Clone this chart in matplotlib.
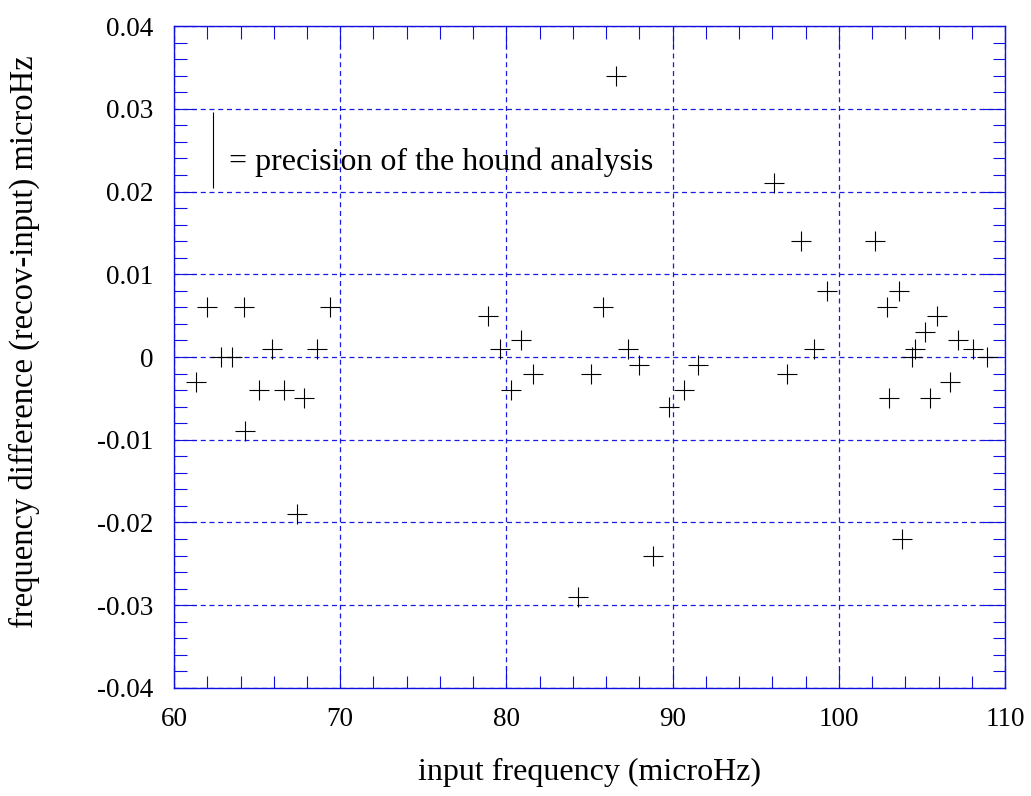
import matplotlib.pyplot as plt
from matplotlib.ticker import MultipleLocator

# input frequency (microHz) and recovered-minus-input difference (microHz)
freq = [61.3, 62.0, 62.8, 63.5, 64.2, 64.3, 65.1, 65.9, 66.6, 67.4, 67.8, 68.6, 69.4,
        78.9, 79.6, 80.3, 80.9, 81.6, 84.3, 85.1, 85.8, 86.6, 87.3, 88.0, 88.8,
        89.8, 90.7, 91.5, 96.1, 96.9, 97.7, 98.5, 99.3, 102.2, 102.9, 103.0,
        103.6, 103.8, 104.4, 104.6, 105.2, 105.5, 105.9, 106.7, 107.2, 108.1, 108.9]
diff = [-0.003, 0.006, 0.0, 0.0, 0.006, -0.009, -0.004, 0.001, -0.004, -0.019, -0.005, 0.001, 0.006,
        0.005, 0.001, -0.004, 0.002, -0.002, -0.029, -0.002, 0.006, 0.034, 0.001, -0.001, -0.024,
        -0.006, -0.004, -0.001, 0.021, -0.002, 0.014, 0.001, 0.008, 0.014, 0.006, -0.005,
        0.008, -0.022, 0.0, 0.001, 0.003, -0.005, 0.005, -0.003, 0.002, 0.001, 0.0]

# error bar used as the key for the precision
prec_x = 62.35
prec_lo, prec_hi = 0.0204, 0.0296

plt.rcParams['font.family'] = ['Liberation Serif', 'DejaVu Serif']

fig = plt.figure(figsize=(10.31, 7.96), dpi=100)
ax = fig.add_axes([0.1688, 0.1357, 0.806, 0.8316])

ax.plot(freq, diff, linestyle='none', marker='+', markersize=14,
        markeredgewidth=0.8, color='black')

ax.vlines(prec_x, prec_lo, prec_hi, color='black', linewidth=0.8)
ax.text(63.3, 0.0226, '= precision of the hound analysis', fontsize=23,
        va='baseline', ha='left')

ax.set_xlim(60, 110)
ax.set_ylim(-0.04, 0.04)
ax.xaxis.set_major_locator(MultipleLocator(10))
ax.xaxis.set_minor_locator(MultipleLocator(2))
ax.yaxis.set_minor_locator(MultipleLocator(0.002))
ax.set_yticks([-0.04, -0.03, -0.02, -0.01, 0, 0.01, 0.02, 0.03, 0.04])
ax.set_yticklabels(['-0.04', '-0.03', '-0.02', '-0.01', '0', '0.01', '0.02', '0.03', '0.04'])

ax.grid(True, which='major', color='#1a1ae6', linestyle=(0, (4, 3)), linewidth=0.9)
for s in ax.spines.values():
    s.set_color('#1010e0')
    s.set_linewidth(1.0)

ax.tick_params(which='both', direction='in', top=True, right=True, color='#1010e0',
               width=0.8, labelsize=19.5)
ax.tick_params(axis='x', which='both', pad=14)
ax.tick_params(axis='y', which='both', pad=15)
ax.tick_params(which='major', length=16)
ax.tick_params(which='minor', length=9)

fig.text(589.5 / 1031, 1 - 772 / 796, 'input frequency (microHz)', fontsize=23,
         ha='center', va='center')
fig.text(24 / 1031, 1 - 342 / 796, 'frequency difference (recov-input) microHz',
         fontsize=23.5, rotation=90, ha='center', va='center')

fig.savefig('out.png', dpi=100)
